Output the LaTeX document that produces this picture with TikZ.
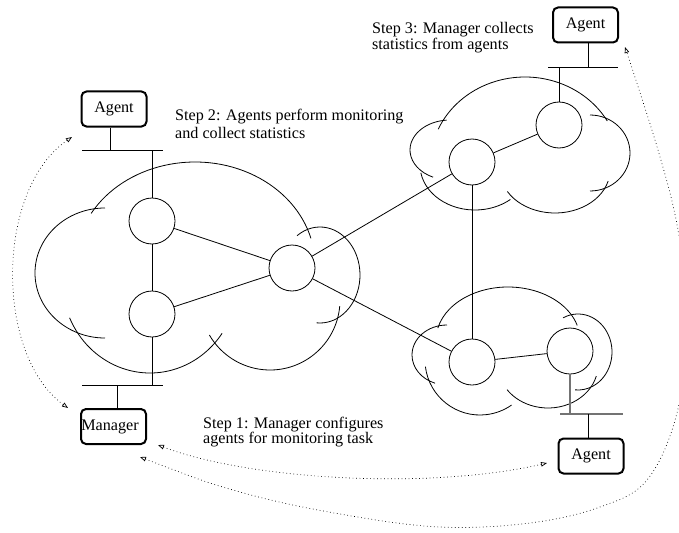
\documentclass[tikz,border=0pt]{standalone}
\usepackage{fontspec}
\setmainfont{Liberation Serif}
\usetikzlibrary{arrows.meta}
\definecolor{busgray}{gray}{0.45}
\newcommand\carc[6]{\draw[cloudline] (#1,-#2) ++(#5:#3 and #4) arc[start angle=#5,end angle=#6,x radius=#3,y radius=#4];}
\begin{document}
\begin{tikzpicture}[x=1pt,y=1pt,
  cloudline/.style={line width=0.8pt},
  router/.style={circle, draw, line width=0.8pt, minimum size=46pt, inner sep=0pt},
  box/.style={draw, line width=2pt, rounded corners=5pt, minimum width=65pt, minimum height=35pt, inner sep=0pt, font=\fontsize{16.15}{18}\selectfont},
  link/.style={line width=0.8pt},
  graybus/.style={line width=1.1pt, draw=busgray},
  note/.style={align=left, inner sep=0pt},
  dotarrow/.style={line width=0.7pt, dash pattern=on 0.7pt off 2.8pt, >={Triangle[open,length=6pt,width=4.5pt]}, <->}
]
\path[use as bounding box] (0,0) rectangle (679,-532);
\clip (0,0) rectangle (679,-532);

% ---------- left cloud ----------
\carc{105}{273}{70}{65}{90}{270}
\carc{195}{265}{120}{103}{150}{15}
\carc{320}{275}{40}{48}{125}{-95}
\carc{270}{300}{70}{70}{-5}{-150}
\carc{150}{280}{88}{93}{204}{325}

% ---------- top right cloud ----------
\carc{525}{165}{95}{88}{156}{30}
\carc{590}{153}{40}{38}{90}{-90}
\carc{555}{170}{55}{43}{-15}{-150}
\carc{475}{165}{55}{45}{190}{310}
\carc{450}{150}{40}{30}{95}{245}

% ---------- bottom right cloud ----------
\carc{508}{340}{72}{53}{167}{16}
\carc{578}{352}{34}{38}{116}{-95}
\carc{548}{365}{50}{43}{-15}{-145}
\carc{480}{360}{55}{55}{187}{305}
\carc{447}{355}{35}{30}{90}{250}

% ---------- routers ----------
\node[router] (c1) at (152,-221) {};
\node[router] (c2) at (152,-314) {};
\node[router] (c3) at (292,-268) {};
\node[router] (c4) at (472,-162) {};
\node[router] (c5) at (559,-125) {};
\node[router] (c6) at (472,-362) {};
\node[router] (c7) at (570,-351) {};

\draw[link] (c1) -- (c2);
\draw[link] (c1) -- (c3);
\draw[link] (c2) -- (c3);
\draw[link] (c3) -- (c4);
\draw[link] (c3) -- (c6);
\draw[link] (c4) -- (c5);
\draw[link] (c4) -- (c6);
\draw[link] (c6) -- (c7);

% ---------- agents and manager ----------
\node[box] (agentL) at (114,-109) {Agent};
\node[box] (agentTR) at (585.5,-25) {Agent};
\node[box] (agentBR) at (591,-456) {Agent};
\node[box] (mgr) at (113.5,-426.5) {\hspace*{-7pt}Manager};

% buses
\coordinate (lb1) at (82,-150);  \coordinate (lb2) at (163,-150);
\coordinate (lbt) at (152,-150); \coordinate (lba) at (110,-150);
\draw[link] (lb1) -- (lb2);
\draw[link] (c1) -- (lbt);
\draw[link] (agentL.south -| lba) -- (lba);

\coordinate (mb1) at (82,-385);  \coordinate (mb2) at (163,-385);
\coordinate (mbt) at (152,-385); \coordinate (mba) at (117,-385);
\draw[link] (mb1) -- (mb2);
\draw[link] (c2) -- (mbt);
\draw[link] (mba) -- (mba |- mgr.north);

\coordinate (tb1) at (548,-67);  \coordinate (tb2) at (618,-67);
\coordinate (tbt) at (559,-67);  \coordinate (tba) at (588,-67);
\draw[link] (tb1) -- (tb2);
\draw[link] (c5) -- (tbt);
\draw[link] (agentTR.south -| tba) -- (tba);

\coordinate (bb1) at (560,-414); \coordinate (bb2) at (623,-414);
\coordinate (bbt) at (570,-414); \coordinate (bba) at (588,-414);
\draw[graybus] (bb1) -- (bb2);
\draw[graybus] (c7) -- (bbt);
\draw[link] (bba) -- (bba |- agentBR.north);

% ---------- dotted arrows ----------
\coordinate (aL1) at (72,-137);  \coordinate (aL2) at (68,-408);
\draw[dotarrow] (aL1) .. controls (-5,-190) and (-5,-355) .. (aL2);

\coordinate (aB1) at (158,-445); \coordinate (aB2) at (547,-463);
\draw[dotarrow] (aB1) .. controls (250,-480) and (430,-490) .. (aB2);

\coordinate (aC1) at (140,-457); \coordinate (aC2) at (625,-47);
\draw[dotarrow] plot[smooth, tension=0.6] coordinates {(aC1) (240,-492) (340,-514) (440,-527) (530,-523) (600,-507) (647,-480) (677,-413) (688,-320) (678,-230) (658,-150) (aC2)};

% ---------- notes (anchor = baseline of last line) ----------
\node[note, font=\fontsize{16.15}{18}\selectfont, anchor=base west] (step2) at (175,-139) {Step 2: Agents perform monitoring\\and collect statistics};
\node[note, font=\fontsize{16.15}{16}\selectfont, anchor=base west] (step3) at (372,-49.5) {Step 3: Manager collects\\statistics from agents};
\node[note, font=\fontsize{16.15}{15.5}\selectfont, anchor=base west] (step1) at (203,-443.5) {Step 1: Manager configures\\agents for monitoring task};
\end{tikzpicture}
\end{document}
